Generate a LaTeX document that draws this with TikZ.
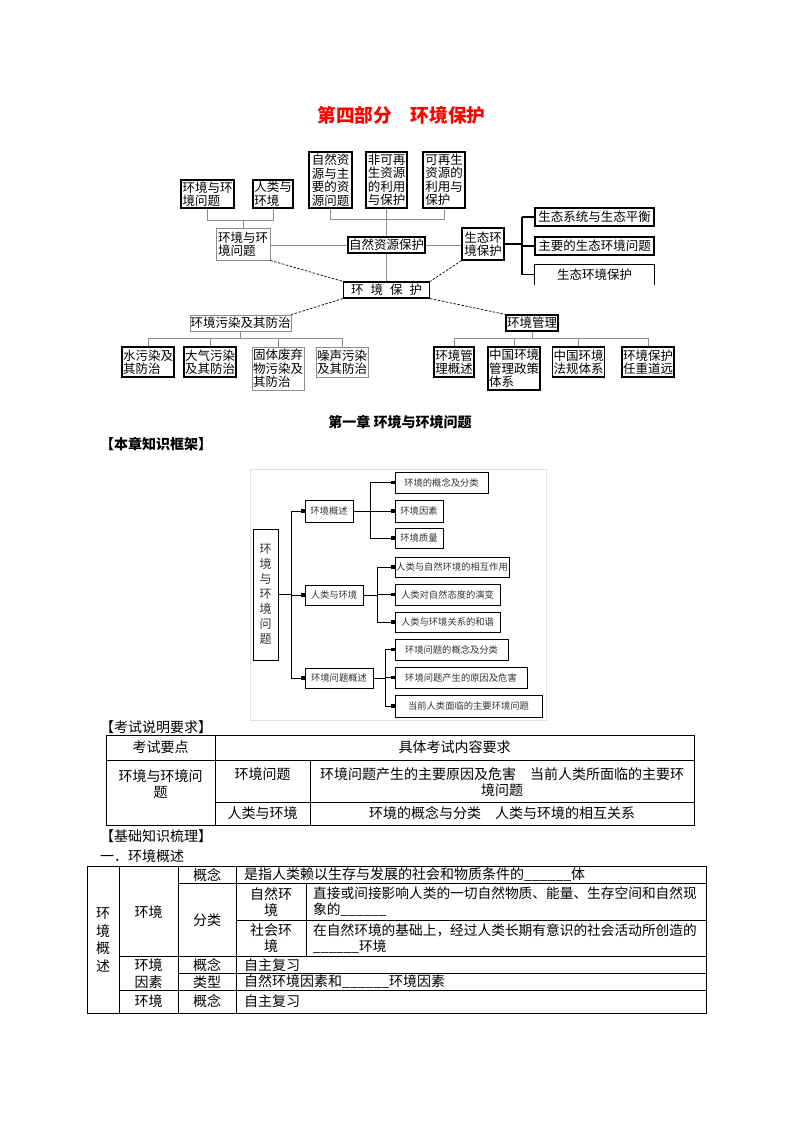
\documentclass[tikz,border=0pt]{standalone}
\usepackage{fontspec}
\setmainfont{Noto Sans CJK SC}
\usetikzlibrary{arrows.meta,shadows}
\begin{document}
\begin{tikzpicture}[x=1pt,y=-1pt,
  tb/.style={draw=black, line width=1.1pt, fill=white, inner sep=1pt, align=left,
    font=\fontsize{12.5}{13.5}\selectfont},
  tbg/.style={tb, draw=black!45, line width=0.8pt},
  gl/.style={draw=black!45, line width=0.8pt},
  bl/.style={draw=black, line width=1.1pt},
  dl/.style={draw=black, line width=0.7pt, dash pattern=on 2.5pt off 1.5pt},
  fb/.style={draw=black, line width=0.8pt, fill=white, inner sep=0pt, align=center,
    font=\fontsize{9.3}{11}\selectfont, text=black!80,
    drop shadow={shadow xshift=1.2pt, shadow yshift=-1.2pt, opacity=1, fill=black!75}},
  ar/.style={line width=0.9pt, -{Rectangle[length=4pt,width=3.5pt]}},
  cl/.style={line width=0.9pt},
  tt/.style={font=\fontsize{14}{16}\selectfont, inner sep=0pt, align=center},
  ttl/.style={tt, anchor=west, align=left},
  tl/.style={line width=0.6pt}
]
\useasboundingbox (0,0) rectangle (793,1122);
\fill[white] (0,0) rectangle (793,1122);

% ---------- title ----------
\node[font=\fontsize{18.67}{20}\selectfont\bfseries, text=red, inner sep=0pt] (title) at (401.5,115) {第四部分　环境保护};

% ---------- top diagram ----------
\node[tb, minimum width=53pt, minimum height=28pt] (A) at (207.5,194) {环境与环\\境问题};
\node[tb, minimum width=40pt, minimum height=28pt] (B) at (273,194) {人类与\\环境};
\node[tb, minimum width=43pt, minimum height=56pt] (C) at (330.5,180) {自然资\\源与主\\要的资\\源问题};
\node[tb, minimum width=41pt, minimum height=56pt] (D) at (386.5,180) {非可再\\生资源\\的利用\\与保护};
\node[tb, minimum width=42pt, minimum height=56pt] (E) at (444,180) {可再生\\资源的\\利用与\\保护};
\node[tbg, minimum width=54pt, minimum height=32pt] (F) at (243,244) {环境与环\\境问题};
\node[tb, minimum width=75pt, minimum height=16pt] (G) at (386.5,245) {自然资源保护};
\node[tb, minimum width=42pt, minimum height=32pt] (H) at (483,244) {生态环\\境保护};
\node[tb, minimum width=119pt, minimum height=18pt] (R1) at (594.5,217) {生态系统与生态平衡};
\node[tb, minimum width=119pt, minimum height=18pt] (R2) at (594.5,246) {主要的生态环境问题};
\node[tb, draw=none, fill=none, minimum width=119pt, minimum height=19pt] (R3) at (594.5,274.5) {生态环境保护};
\draw[bl] (R3.south west) -- (R3.north west) -- (R3.north east) -- (R3.south east);
\node[tb, minimum width=86pt, minimum height=16pt] (K) at (386.5,290) {环\hspace{7pt}境\hspace{7pt}保\hspace{7pt}护};
\node[tbg, minimum width=101pt, minimum height=16pt, inner sep=0.5pt] (L) at (240.5,323) {环境污染及其防治};
\node[tb, minimum width=52pt, minimum height=16pt] (M) at (532,323) {环境管理};
\node[tb, minimum width=52pt, minimum height=30pt] (W1) at (148,362) {水污染及\\其防治};
\node[tb, minimum width=52pt, minimum height=30pt] (W2) at (210,362) {大气污染\\及其防治};
\node[tbg, minimum width=52pt, minimum height=43pt] (W3) at (278,368.5) {固体废弃\\物污染及\\其防治};
\node[tbg, minimum width=49pt, minimum height=30pt] (W4) at (342,362) {噪声污染\\及其防治};
\node[tb, minimum width=40pt, minimum height=30pt] (V1) at (454,362) {环境管\\理概述};
\node[tb, minimum width=52pt, minimum height=43pt] (V2) at (514,368.5) {中国环境\\管理政策\\体系};
\node[tb, minimum width=51pt, minimum height=30pt] (V3) at (578.5,362) {中国环境\\法规体系};
\node[tb, minimum width=52pt, minimum height=30pt] (V4) at (648,362) {环境保护\\任重道远};

\coordinate (b1) at (0,220);
\coordinate (b2) at (0,219);
\coordinate (b3) at (0,338.5);
\coordinate (vx) at (522,0);
% brackets
\draw[gl] (A.south) -- (A.south |- b1) -- (B.south |- b1) -- (B.south);
\draw[gl] (F.north) -- (F.north |- b1);
\draw[gl] (C.south) -- (C.south |- b2) -- (E.south |- b2) -- (E.south);
\draw[gl] (D.south) -- (G.north);
\draw[gl] (G.south) -- (K.north);
\draw[gl] (F.east |- G.west) -- (G.west);
\draw[gl] (G.east) -- (H.west |- G.east);
% ecology branch
\draw[bl] (H.east) -- (H.east -| vx);
\draw[bl] (R1.west -| vx) -- (vx |- R3.west);
\draw[bl] (R1.west -| vx) -- (R1.west);
\draw[bl] (R2.west -| vx) -- (R2.west);
\draw[bl] (R3.west -| vx) -- (R3.west);
% dashed
\draw[dl] (F.south east) -- (K.north west);
\draw[dl] (H.south west) -- (K.north east);
\draw[dl] (K.south west) -- (L.north east);
\draw[dl] (K.south east) -- (M.north west);
% lower brackets
\draw[gl] (L.south) -- (L.south |- b3);
\draw[gl] (W1.north) -- (W1.north |- b3) -- (W4.north |- b3) -- (W4.north);
\draw[gl] (W2.north) -- (W2.north |- b3);
\draw[gl] (W3.north) -- (W3.north |- b3);
\draw[gl] (M.south) -- (M.south |- b3);
\draw[gl] (V1.north) -- (V1.north |- b3) -- (V4.north |- b3) -- (V4.north);
\draw[gl] (V2.north) -- (V2.north |- b3);
\draw[gl] (V3.north) -- (V3.north |- b3);

% ---------- chapter headings ----------
\node[tt, font=\fontsize{14}{16}\selectfont\bfseries] (ch1) at (400,422) {第一章 环境与环境问题};
\node[ttl, font=\fontsize{14}{16}\selectfont\bfseries] (kj) at (100,444) {【本章知识框架】};

% ---------- second diagram ----------
\draw[black!12, line width=0.5pt] (250,469) rectangle (546,720);
\node[fb, minimum width=25pt, minimum height=131pt, font=\fontsize{12}{15}\selectfont] (Big) at (265.5,594.5) {环\\境\\与\\环\\境\\问\\题};
\node[fb, minimum width=48pt, minimum height=22pt] (P1) at (329,511) {环境概述};
\node[fb, minimum width=58pt, minimum height=20pt] (P2) at (334,595) {人类与环境};
\node[fb, minimum width=68pt, minimum height=20pt] (P3) at (339,678) {环境问题概述};
\node[fb, minimum width=93pt, minimum height=21pt] (Q1) at (441.5,482.5) {环境的概念及分类};
\node[fb, minimum width=48pt, minimum height=22pt] (Q2) at (419,511) {环境因素};
\node[fb, minimum width=48pt, minimum height=20pt] (Q3) at (419,538) {环境质量};
\node[fb, minimum width=114pt, minimum height=20pt] (Q4) at (452,567) {人类与自然环境的相互作用};
\node[fb, minimum width=105pt, minimum height=21pt] (Q5) at (447.5,594.5) {人类对自然态度的演变};
\node[fb, minimum width=105pt, minimum height=20pt] (Q6) at (447.5,622) {人类与环境关系的和谐};
\node[fb, minimum width=113pt, minimum height=21pt] (Q7) at (451.5,649.5) {环境问题的概念及分类};
\node[fb, minimum width=132pt, minimum height=21pt] (Q8) at (461,677.5) {环境问题产生的原因及危害};
\node[fb, minimum width=147pt, minimum height=22pt] (Q9) at (468.5,706) {当前人类面临的主要环境问题};
\coordinate (c1) at (291,0);
\coordinate (c2) at (370,0);
\coordinate (c3) at (377,0);
\coordinate (c4) at (385,0);
\draw[cl] (Big.east) -- (Big.east -| c1);
\draw[cl] (c1 |- P1.west) -- (c1 |- P3.west);
\draw[ar] (c1 |- P1.west) -- (P1.west);
\draw[ar] (c1 |- P2.west) -- (P2.west);
\draw[ar] (c1 |- P3.west) -- (P3.west);
\draw[cl] (P1.east) -- (P1.east -| c2);
\draw[cl] (c2 |- Q1.west) -- (c2 |- Q3.west);
\draw[ar] (c2 |- Q1.west) -- (Q1.west);
\draw[ar] (c2 |- Q2.west) -- (Q2.west);
\draw[ar] (c2 |- Q3.west) -- (Q3.west);
\draw[cl] (P2.east) -- (P2.east -| c3);
\draw[cl] (c3 |- Q4.west) -- (c3 |- Q6.west);
\draw[ar] (c3 |- Q4.west) -- (Q4.west);
\draw[ar] (c3 |- Q5.west) -- (Q5.west);
\draw[ar] (c3 |- Q6.west) -- (Q6.west);
\draw[cl] (P3.east) -- (P3.east -| c4);
\draw[cl] (c4 |- Q7.west) -- (c4 |- Q9.west);
\draw[ar] (c4 |- Q7.west) -- (Q7.west);
\draw[ar] (c4 |- Q8.west) -- (Q8.west);
\draw[ar] (c4 |- Q9.west) -- (Q9.west);

% ---------- exam table ----------
\node[ttl] (ks) at (100,727) {【考试说明要求】};
\draw[tl] (106,735) rectangle (694,825);
\draw[tl] (215,735) -- (215,825);
\draw[tl] (106,760) -- (694,760);
\draw[tl] (310,760) -- (310,825);
\draw[tl] (215,802) -- (694,802);
\node[tt] (t11) at (160.5,747.5) {考试要点};
\node[tt] (t12) at (454.5,747.5) {具体考试内容要求};
\node[tt] (t21) at (160.5,784.5) {环境与环境问\\题};
\node[tt] (t22) at (262.5,774) {环境问题};
\node[tt] (t23) at (502,782) {环境问题产生的主要原因及危害　当前人类所面临的主要环\\境问题};
\node[tt] (t32) at (262.5,813.5) {人类与环境};
\node[tt] (t33) at (502,813.5) {环境的概念与分类　人类与环境的相互关系};

% ---------- basic knowledge table ----------
\node[ttl] (jc) at (100,836) {【基础知识梳理】};
\node[ttl] (yi) at (100,856) {一．环境概述};
\draw[tl] (87,866.7) rectangle (706,1013);
\draw[tl] (119,866.7) -- (119,1013);
\draw[tl] (178,866.7) -- (178,1013);
\draw[tl] (236,866.7) -- (236,1013);
\draw[tl] (306,883.3) -- (306,956.7);
\draw[tl] (178,883.3) -- (706,883.3);
\draw[tl] (236,920) -- (706,920);
\draw[tl] (119,956.7) -- (706,956.7);
\draw[tl] (178,973.3) -- (706,973.3);
\draw[tl] (119,990) -- (706,990);
\node[tt, font=\fontsize{14}{17.5}\selectfont] (s0) at (103,940) {环\\境\\概\\述};
\node[tt] (s1) at (148.5,912) {环境};
\node[tt, font=\fontsize{14}{17}\selectfont] (s2) at (148.5,973.3) {环境\\因素};
\node[tt] (s3) at (148.5,1001.5) {环境};
\node[tt] (u1) at (207,875) {概念};
\node[tt] (u2) at (207,920) {分类};
\node[tt] (u3) at (207,965) {概念};
\node[tt] (u4) at (207,982) {类型};
\node[tt] (u5) at (207,1001.5) {概念};
\node[tt] (v1) at (271,901.7) {自然环\\境};
\node[tt] (v2) at (271,938.3) {社会环\\境};
\node[ttl] (w1) at (244,875) {是指人类赖以生存与发展的社会和物质条件的\_\_\_\_\_\_体};
\node[ttl, font=\fontsize{13.7}{16}\selectfont] (w2) at (313,901.7) {直接或间接影响人类的一切自然物质、能量、生存空间和自然现\\象的\_\_\_\_\_\_};
\node[ttl, font=\fontsize{13.7}{16}\selectfont] (w3) at (313,938.3) {在自然环境的基础上，经过人类长期有意识的社会活动所创造的\\\_\_\_\_\_\_环境};
\node[ttl] (w4) at (244,965) {自主复习};
\node[ttl] (w5) at (244,982) {自然环境因素和\_\_\_\_\_\_环境因素};
\node[ttl] (w6) at (244,1001.5) {自主复习};
\end{tikzpicture}
\end{document}
